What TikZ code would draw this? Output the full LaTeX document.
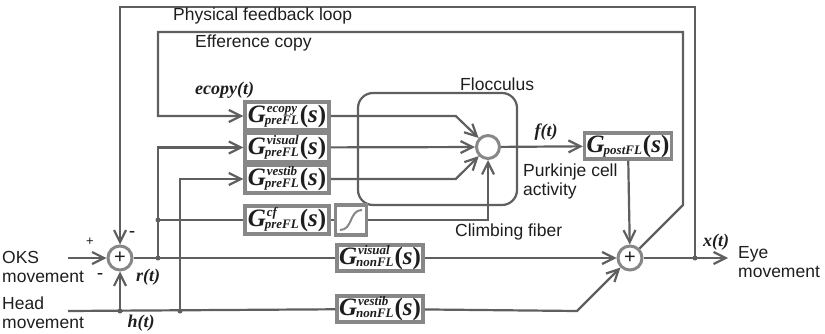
\documentclass[tikz,border=0pt]{standalone}
\usepackage{fontspec}
\setmainfont{Liberation Serif}
\setsansfont{Liberation Sans}
\usetikzlibrary{positioning,arrows.meta,calc}
\definecolor{fbLine}{RGB}{95,95,95}
\definecolor{fbBox}{RGB}{135,135,135}
\definecolor{fbText}{RGB}{30,30,30}

% transfer function G^{sup}_{sub}(s)
\newcommand{\tfG}[2]{{\bfseries\itshape\fontsize{25}{25}\selectfont G\kern-1pt\raisebox{-2pt}{\fontsize{13}{12}\selectfont\begin{tabular}[b]{@{}l@{}}\kern2pt#1\\#2\end{tabular}}\kern1pt\textup{(}s\textup{)}}}
\newcommand{\tfGsub}[1]{{\bfseries\itshape\fontsize{25}{25}\selectfont G\kern-1pt\raisebox{-2pt}{\fontsize{13}{12}\selectfont #1}\kern1pt\textup{(}s\textup{)}}}

\begin{document}
\begin{tikzpicture}[
  x=1pt, y=-1pt,
  every node/.style={text=fbText},
  wire/.style={draw=fbLine, line width=2.2pt},
  arrow/.style={wire, -{Straight Barb[length=12pt,width=12pt]}},
  gbox/.style={draw=fbBox, line width=3.5pt, fill=white, minimum width=84pt, minimum height=28pt, inner xsep=2pt, inner ysep=0pt},
  sumnode/.style={circle, draw=fbBox, line width=3pt, fill=white, minimum size=24pt, inner sep=0pt, font=\sffamily\fontsize{20}{20}\selectfont},
  lbl/.style={font=\sffamily\fontsize{17.5}{19}\selectfont, align=left, inner sep=0pt},
  sig/.style={font=\bfseries\itshape\fontsize{18}{18}\selectfont, inner sep=0pt},
  dot/.style={circle, fill=fbLine, inner sep=0pt, minimum size=5pt}
]
\useasboundingbox (0,0) rectangle (825,334);

% flocculus
\node[draw=fbLine, line width=2.2pt, rounded corners=15pt, minimum width=159pt, minimum height=112pt] (floc) at (437.5,149) {};
\node[lbl, anchor=west] at (460,84) {Flocculus};

% summing junctions and Purkinje cell
\node[sumnode] (sumR) at (120,258) {+};
\node[sumnode] (sumX) at (630,258) {+};
\node[circle, draw=fbBox, line width=3pt, fill=white, minimum size=23pt] (pc) at (488,147) {};

% filters
\node[gbox] (gEcopy) at (287,116) {\tfG{ecopy}{preFL}};
\node[gbox, below=0pt of gEcopy] (gVisual) {\tfG{visual}{preFL}};
\node[gbox, below=0pt of gVisual] (gVestib) {\tfG{vestib}{preFL}};
\node[gbox] (gCf) at (287,220) {\tfG{cf}{preFL}};
\node[gbox, minimum width=31pt, minimum height=30pt, right=3pt of gCf] (sigm) {};
\node[gbox, minimum height=26pt] (gVisNon) at (380,258) {\tfG{visual}{nonFL}};
\node[gbox, minimum height=26pt] (gVesNon) at (380,309) {\tfG{vestib}{nonFL}};
\node[gbox, minimum width=78pt, minimum height=26pt] (gPost) at (628,146) {\tfGsub{postFL}};
\draw[fbBox, line width=2pt] ($(sigm.center)+(-11,10)$) .. controls ($(sigm.center)+(2,10)$) and ($(sigm.center)+(-2,-10)$) .. ($(sigm.center)+(11,-10)$);

% junctions
\coordinate (okin) at (68,258);
\coordinate (headin) at (68,311);
\coordinate (eyeout) at (728,258);
\coordinate (jHeadR) at (120,311);
\coordinate (jHeadV) at (180,311);
\coordinate (jR) at (158,258);
\coordinate (jCf) at (158,220);
\coordinate (jX) at (695,258);
\coordinate (bendVes) at (577,311);
\coordinate (bendEff) at (683,205);
\coordinate (effL) at (158,32);

% inputs
\draw[arrow] (okin) -- (sumR);
\draw[wire] (headin) -- (gVesNon);
\draw[arrow] (jHeadR) -- (sumR);
\draw[arrow] (jHeadV) |- (gVestib);
\draw[wire] (sumR) -- (gVisNon);
\draw[arrow] (jR) |- (gVisual);
\draw[wire] (jCf) -- (gCf);
\draw[wire] (gCf) -- (sigm);

% into the flocculus
\draw[arrow] (gEcopy.east) -- ++(125,0) -- (pc);
\draw[arrow] (gVisual) -- (pc);
\draw[arrow] (gVestib.east) -- ++(125,0) -- (pc);
\draw[arrow] (sigm) -| (pc);
\draw[arrow] (pc) -- (gPost);

% output side
\draw[arrow] (gPost) -- (sumX);
\draw[arrow] (gVisNon) -- (sumX);
\draw[arrow] (gVesNon) -- (bendVes) -- (sumX);
\draw[arrow] (sumX) -- (eyeout);

% loops
\draw[arrow] (jX) -- ++(0,-251) -| (sumR);
\draw[arrow] (sumX) -- (bendEff) |- (effL) |- (gEcopy);

\foreach \j in {jHeadR,jHeadV,jR,jCf,jX}
  \node[dot] at (\j) {};

% labels
\node[lbl, anchor=west] at (173,16) {Physical feedback loop};
\node[lbl, anchor=west] at (195,43) {Efference copy};
\node[sig, anchor=west] at (195,90) {ecopy(t)};
\node[sig] at (546,132) {f(t)};
\node[lbl, anchor=west] at (523,181) {Purkinje cell\\activity};
\node[lbl, anchor=west] at (455,232) {Climbing fiber};
\node[sig] at (716,242) {x(t)};
\node[lbl, anchor=west] at (738,262) {Eye\\movement};
\node[lbl, anchor=west] at (2,267) {OKS\\movement};
\node[lbl, anchor=west] at (2,313) {Head\\movement};
\node[font=\sffamily\fontsize{13}{13}\selectfont] at (90,242) {+};
\node[font=\bfseries\fontsize{18}{18}\selectfont] at (132,234) {-};
\node[font=\bfseries\fontsize{18}{18}\selectfont] at (100,276) {-};
\node[sig] at (148,277) {r(t)};
\node[sig] at (141,323) {h(t)};
\end{tikzpicture}
\end{document}
